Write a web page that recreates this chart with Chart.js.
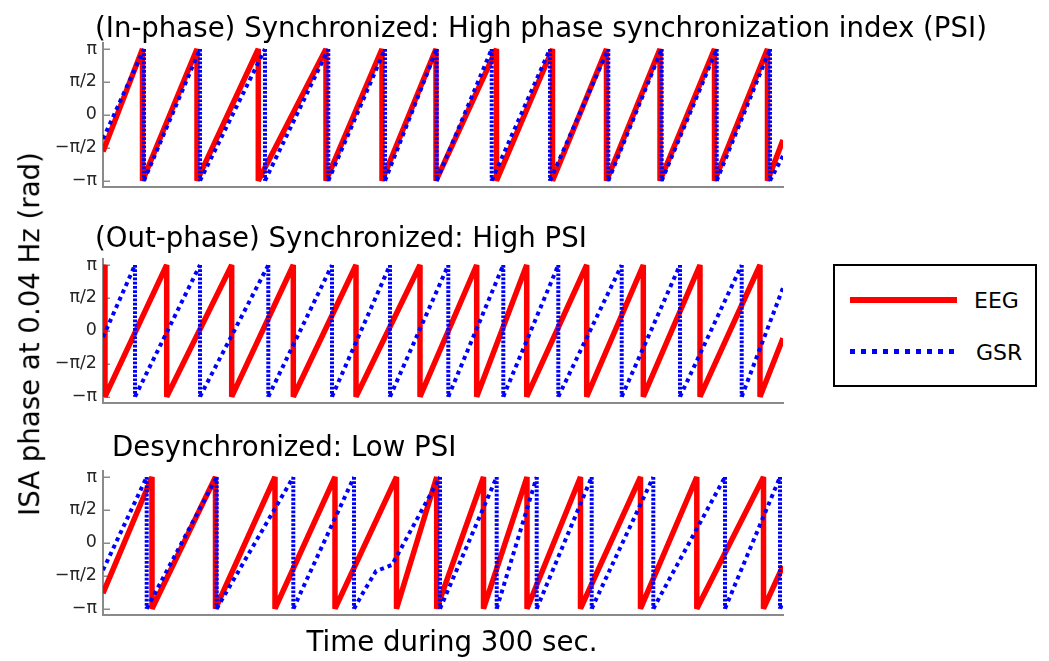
<!DOCTYPE html>
<html>
<head>
<meta charset="utf-8">
<script src="https://cdn.jsdelivr.net/npm/chart.js@4.4.1/dist/chart.umd.min.js"></script>
<style>
html,body{margin:0;padding:0;background:#fff;}
body{width:1049px;height:661px;position:relative;overflow:hidden;font-family:"DejaVu Sans","Noto Sans",sans-serif;color:#000;}
canvas.pc{position:absolute;left:0;}
.txt{position:absolute;white-space:nowrap;line-height:1;}
.title{font-size:27.6px;transform:translateY(-50%);}
#ylab{left:30px;top:334px;font-size:27.6px;transform:translate(-50%,-50%) rotate(-90deg);}
#xlab{left:452px;top:642px;font-size:27.6px;transform:translate(-50%,-50%);}
#legend{position:absolute;left:833px;top:264px;width:200px;height:119px;border:2px solid #000;background:#fff;}
.lgline{position:absolute;left:15px;width:107px;height:6px;}
.lgtxt{position:absolute;font-size:22px;transform:translateY(-50%);}
</style>
</head>
<body>
<canvas class="pc" id="c1" width="800" height="184"></canvas>
<canvas class="pc" id="c2" width="800" height="184"></canvas>
<canvas class="pc" id="c3" width="800" height="184"></canvas>

<div class="txt title" style="left:95px;top:28px;">(In-phase) Synchronized: High phase synchronization index (PSI)</div>
<div class="txt title" style="left:95px;top:238px;">(Out-phase) Synchronized: High PSI</div>
<div class="txt title" style="left:112px;top:447px;">Desynchronized: Low PSI</div>
<div class="txt" id="ylab">ISA phase at 0.04 Hz (rad)</div>
<div class="txt" id="xlab">Time during 300 sec.</div>
<div id="legend">
  <div class="lgline" style="top:31px;background:#ff0000;"></div>
  <div class="lgtxt" style="left:139px;top:34px;">EEG</div>
  <div class="lgline" style="top:83px;height:5px;background:repeating-linear-gradient(to right,#0000ff 0 5px,transparent 5px 11px);"></div>
  <div class="lgtxt" style="left:141px;top:86px;">GSR</div>
</div>

<script>
const PI = Math.PI;

// y-axis tick values and labels (radians)
const yTickValues = [-PI, -PI/2, 0, PI/2, PI];
const yTickLabels = ['\u2212\u03c0', '\u2212\u03c0/2', '0', '\u03c0/2', '\u03c0'];

// ---- Panel 1: (In-phase) synchronized ----
const eegTopTime = [0, 17.43,17.43, 41.47,41.47, 68.51,68.51, 98.38,98.38, 123.09,123.09, 146.91,146.91,
  173.60,173.60, 198.31,198.31, 222.13,222.13, 245.74,245.74, 269.78,269.78, 293.16,293.16, 300];
const eegTopPhase = [-1.75, PI,-PI, PI,-PI, PI,-PI, PI,-PI, PI,-PI, PI,-PI,
  PI,-PI, PI,-PI, PI,-PI, PI,-PI, PI,-PI, PI,-PI, -1.2];
const gsrTopTime = [0, 18.09,18.09, 42.79,42.79, 71.47,71.47, 99.40,99.40, 124.41,124.41, 147.22,147.22,
  171.49,171.49, 197.21,197.21, 222.93,222.93, 246.49,246.49, 270.75,270.75, 294.26,294.26, 300];
const gsrTopPhase = [-1.15, PI,-PI, PI,-PI, PI,-PI, PI,-PI, PI,-PI, PI,-PI,
  PI,-PI, PI,-PI, PI,-PI, PI,-PI, PI,-PI, PI,-PI, -1.95];

// ---- Panel 2: (Out-phase) synchronized ----
const eegMidTime = [0, 0.88,0.88, 28.10,28.10, 56.78,56.78, 83.96,83.96, 111.62,111.62, 139.85,139.85,
  164.87,164.87, 186.93,186.93, 213.40,213.40, 238.37,238.37, 263.38,263.38, 289.85,289.85, 300];
const eegMidPhase = [2.85, PI,-PI, PI,-PI, PI,-PI, PI,-PI, PI,-PI, PI,-PI,
  PI,-PI, PI,-PI, PI,-PI, PI,-PI, PI,-PI, PI,-PI, -0.35];
const gsrMidTime = [0, 14.12,14.12, 42.79,42.79, 72.93,72.93, 101.03,101.03, 126.62,126.62, 152.34,152.34,
  176.60,176.60, 200.87,200.87, 228.84,228.84, 254.56,254.56, 281.78,281.78, 300];
const gsrMidPhase = [-0.3, PI,-PI, PI,-PI, PI,-PI, PI,-PI, PI,-PI, PI,-PI,
  PI,-PI, PI,-PI, PI,-PI, PI,-PI, PI,-PI, 2.05];

// ---- Panel 3: Desynchronized ----
const eegLowTime = [0, 21.62,21.62, 49.63,49.63, 75.88,75.88, 102.35,102.35, 129.49,129.49, 147.22,147.22,
  167.87,167.87, 187.06,187.06, 210.66,210.66, 237.13,237.13, 261.97,261.97, 291.40,291.40, 300];
const eegLowPhase = [-2.4, PI,-PI, PI,-PI, PI,-PI, PI,-PI, PI,-PI, PI,-PI,
  PI,-PI, PI,-PI, PI,-PI, PI,-PI, PI,-PI, PI,-PI, -1.1];
const gsrLowTime = [0, 19.28,19.28, 50.16,50.16, 83.96,83.96, 110.74,110.74, 115.15, 120.44, 127.50,
  148.68,148.68, 173.69,173.69, 191.34,191.34, 215.60,215.60, 242.78,242.78, 274.41,274.41, 298.68,298.68, 300];
const gsrLowPhase = [-1.3, PI,-PI, PI,-PI, PI,-PI, PI,-PI, -2.3, -1.35, -1.05,
  PI,-PI, PI,-PI, PI,-PI, PI,-PI, PI,-PI, PI,-PI, PI,-PI, -2.85];

const panels = [
  {id:'c1', chartTop:43, eegT:eegTopTime, eegP:eegTopPhase, gsrT:gsrTopTime, gsrP:gsrTopPhase},
  {id:'c2', chartTop:259, eegT:eegMidTime, eegP:eegMidPhase, gsrT:gsrMidTime, gsrP:gsrMidPhase},
  {id:'c3', chartTop:470.7, eegT:eegLowTime, eegP:eegLowPhase, gsrT:gsrLowTime, gsrP:gsrLowPhase}
];

const AXIS_GRAY = '#8a8a8a';
const PAD_TOP = 20;
const YLIM = 3.428;

const inwardTicks = {
  id: 'inwardTicks',
  beforeDatasetsDraw(chart) {
    const y = chart.scales.y, ctx = chart.ctx, left = chart.chartArea.left;
    ctx.save();
    ctx.strokeStyle = AXIS_GRAY;
    ctx.lineWidth = 1.5;
    yTickValues.forEach(v => {
      const py = Math.round(y.getPixelForValue(v)) + 0.25;
      ctx.beginPath();
      ctx.moveTo(left, py);
      ctx.lineTo(left + 7, py);
      ctx.stroke();
    });
    ctx.restore();
  }
};

function toPts(t, p) { return t.map((x, i) => ({x: x, y: p[i]})); }
const isVertical = ctx => ctx.p0.parsed.x === ctx.p1.parsed.x;

panels.forEach(pn => {
  const cv = document.getElementById(pn.id);
  cv.style.top = (pn.chartTop - PAD_TOP) + 'px';
  new Chart(cv, {
    type: 'line',
    data: {
      datasets: [
        {
          label: 'GSR',
          data: toPts(pn.gsrT, pn.gsrP),
          borderColor: '#0000ff',
          borderWidth: 4,
          borderCapStyle: 'butt',
          borderJoinStyle: 'bevel',
          borderDash: [4, 4],
          segment: { borderDash: c => isVertical(c) ? [2.7, 1.5] : [4, 4] },
          pointRadius: 0,
          tension: 0,
          fill: false,
          order: 0
        },
        {
          label: 'EEG',
          data: toPts(pn.eegT, pn.eegP),
          borderColor: '#ff0000',
          borderWidth: 5.5,
          borderJoinStyle: 'bevel',
          pointRadius: 0,
          tension: 0,
          fill: false,
          order: 1
        }
      ]
    },
    options: {
      responsive: false,
      animation: false,
      devicePixelRatio: 1,
      layout: { padding: { left: 0, right: 17, top: PAD_TOP, bottom: 184 - PAD_TOP - 143.7 } },
      plugins: { legend: { display: false }, tooltip: { enabled: false }, title: { display: false } },
      events: [],
      scales: {
        x: {
          type: 'linear', min: 0, max: 300,
          ticks: { display: false },
          grid: { display: true, drawOnChartArea: false, drawTicks: false },
          border: { display: true, color: AXIS_GRAY, width: 2 },
          afterFit: s => { s.height = 0; }
        },
        y: {
          type: 'linear', min: -YLIM, max: YLIM,
          afterBuildTicks: s => { s.ticks = yTickValues.map(v => ({value: v})); },
          ticks: {
            autoSkip: false,
            padding: 6,
            color: '#262626',
            font: { family: '"DejaVu Sans", sans-serif', size: 17.5 },
            callback: (v) => {
              const i = yTickValues.findIndex(t => Math.abs(t - v) < 1e-6);
              return i >= 0 ? yTickLabels[i] : '';
            }
          },
          grid: { display: true, drawOnChartArea: false, drawTicks: false },
          border: { display: true, color: AXIS_GRAY, width: 2 },
          afterFit: s => { s.width = 103; }
        }
      }
    },
    plugins: [inwardTicks]
  });
});
</script>
</body>
</html>
